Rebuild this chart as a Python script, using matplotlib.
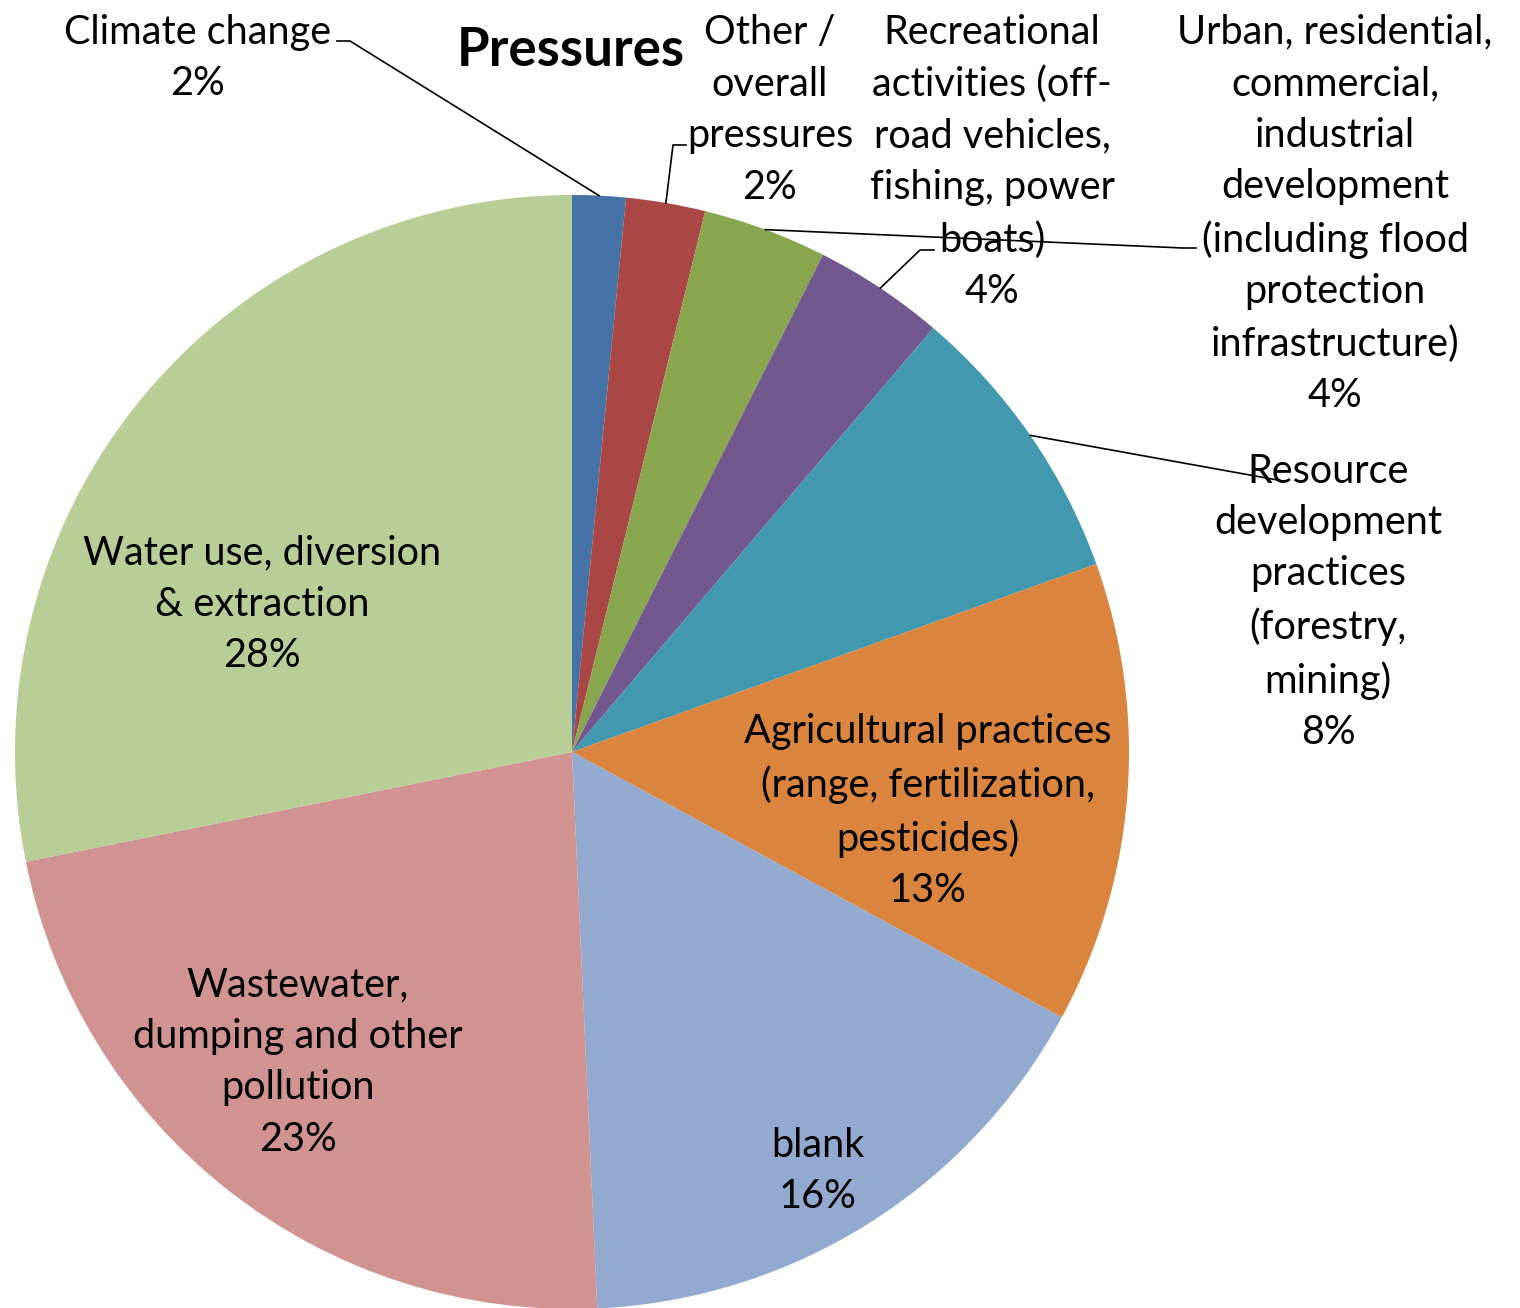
import numpy as np
import matplotlib.pyplot as plt

# pressures, clockwise from 12 o'clock
categories = [
    'Climate change',
    'Other /\noverall\npressures',
    'Urban, residential,\ncommercial,\nindustrial\ndevelopment\n(including flood\nprotection\ninfrastructure)',
    'Recreational\nactivities (off-\nroad vehicles,\nfishing, power\nboats)',
    'Resource\ndevelopment\npractices\n(forestry,\nmining)',
    'Agricultural practices\n(range, fertilization,\npesticides)',
    'blank',
    'Wastewater,\ndumping and other\npollution',
    'Water use, diversion\n& extraction',
]
shares = [1.55, 2.3, 3.6, 3.8, 8.3, 13.4, 16.4, 22.6, 28.2]
colors = ['#4572A7', '#AA4643', '#89A54E', '#71588F', '#4198AF',
          '#DB843D', '#93A9CF', '#D19392', '#B9CD96']

W, H = 1520, 1308
CX, CY, R = 572, 752, 557


def px(x, y):
    # pixel position -> data units (pie radius = 1)
    return (x - CX) / R, (CY - y) / R


# label centres (pixels) and leader-line elbows (None = label inside slice)
label_pos = [(198, 58), (770, 110), (1335, 214), (992, 162), (1328, 602),
             (928, 811), (818, 1171), (298, 1062), (262, 604)]
elbows = [[(350, 41), (337, 41)],
          [(673, 145), (686, 145)],
          [(1183, 248), (1196, 248)],
          [(920, 250), (934, 250)],
          [(1283, 481)],
          None, None, None, None]

plt.rcParams['font.family'] = ['Lato', 'DejaVu Sans']

fig = plt.figure(figsize=(W / 100, H / 100), dpi=100)
ax = fig.add_axes([0, 0, 1, 1])

wedges, _ = ax.pie(shares, colors=colors, startangle=90, counterclock=False,
                   radius=1, center=(0, 0), frame=True,
                   wedgeprops=dict(linewidth=0))

total = sum(shares)
for i, w in enumerate(wedges):
    pct = '%d%%' % int(shares[i] / total * 100 + 0.5)
    lx, ly = px(*label_pos[i])
    ax.text(lx, ly, categories[i] + '\n' + pct, ha='center', va='center',
            fontsize=28.5, linespacing=1.48, color='black', zorder=3)
    if elbows[i] is not None:
        mid = np.deg2rad((w.theta1 + w.theta2) / 2)
        xs = [np.cos(mid)] + [px(*p)[0] for p in elbows[i]]
        ys = [np.sin(mid)] + [px(*p)[1] for p in elbows[i]]
        ax.plot(xs, ys, color='black', lw=1.2, zorder=4)

tx, ty = px(571, 50)
ax.text(tx, ty, 'Pressures', ha='center', va='center', fontsize=38,
        fontweight='bold', zorder=3)

ax.set_xlim(-CX / R, (W - CX) / R)
ax.set_ylim((CY - H) / R, CY / R)
ax.set_aspect('equal')
ax.axis('off')

fig.savefig('out.png', dpi=100)
